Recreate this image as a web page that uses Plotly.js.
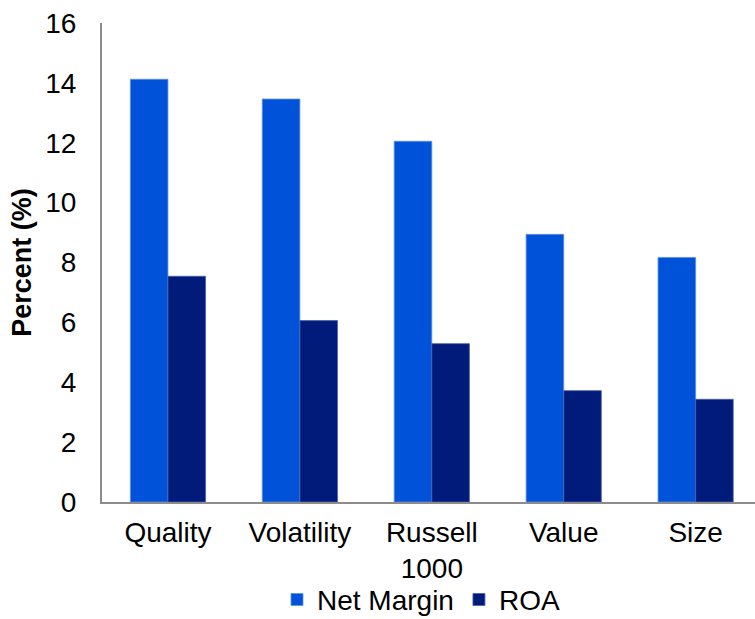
<!DOCTYPE html>
<html>
<head>
<meta charset="utf-8">
<script src="https://cdn.plot.ly/plotly-3.0.1.min.js"></script>
<style>html,body{margin:0;padding:0;background:#fff;}#chart{width:755px;height:619px;}</style>
</head>
<body>
<div id="chart"></div>
<script>
var categories = ["Quality", "Volatility", "Russell<br>1000", "Value", "Size"];
var netMargin = [14.12, 13.46, 12.05, 8.94, 8.17];
var roa = [7.54, 6.06, 5.29, 3.72, 3.43];
var yTicks = [0, 2, 4, 6, 8, 10, 12, 14, 16];

var font = "Liberation Sans, Arial, sans-serif";
var traces = [
  {type: "bar", name: "Net Margin", x: categories, y: netMargin,
   marker: {color: "#0052D8", line: {color: "#5f8fe6", width: 0.8}}},
  {type: "bar", name: "ROA", x: categories, y: roa,
   marker: {color: "#001B7A", line: {color: "#4a5fa8", width: 0.8}}}
];
var layout = {
  width: 755, height: 619,
  margin: {l: 102, r: 0, t: 23, b: 117, autoexpand: false},
  paper_bgcolor: "#fff", plot_bgcolor: "#fff",
  barmode: "group", bargap: 0.43, bargroupgap: 0,
  font: {family: font, size: 28, color: "#000"},
  showlegend: true,
  legend: {orientation: "h", x: 0.268, xanchor: "left", y: -0.152, yanchor: "top",
           bgcolor: "rgba(0,0,0,0)",
           font: {family: font, size: 28, color: "#000"}, itemclick: false, itemgap: 8},
  xaxis: {type: "category", range: [-0.5, 4.45], showline: true, linecolor: "#8c8c8c", linewidth: 2,
          showgrid: false, zeroline: false, ticks: "", automargin: false, ticklabelstandoff: 4,
          tickfont: {family: font, size: 28, color: "#000"}},
  yaxis: {range: [0, 16], tickvals: yTicks, ticktext: yTicks.map(String), showline: true,
          linecolor: "#8c8c8c", linewidth: 2, showgrid: false, zeroline: false, ticks: "",
          ticklabelstandoff: 18, automargin: false,
          tickfont: {family: font, size: 28, color: "#000"},
          title: {text: "<b>Percent (%)</b>", font: {family: font, size: 27, color: "#000"}, standoff: 6}}
};
Plotly.newPlot("chart", traces, layout, {staticPlot: true, displayModeBar: false});
</script>
</body>
</html>
